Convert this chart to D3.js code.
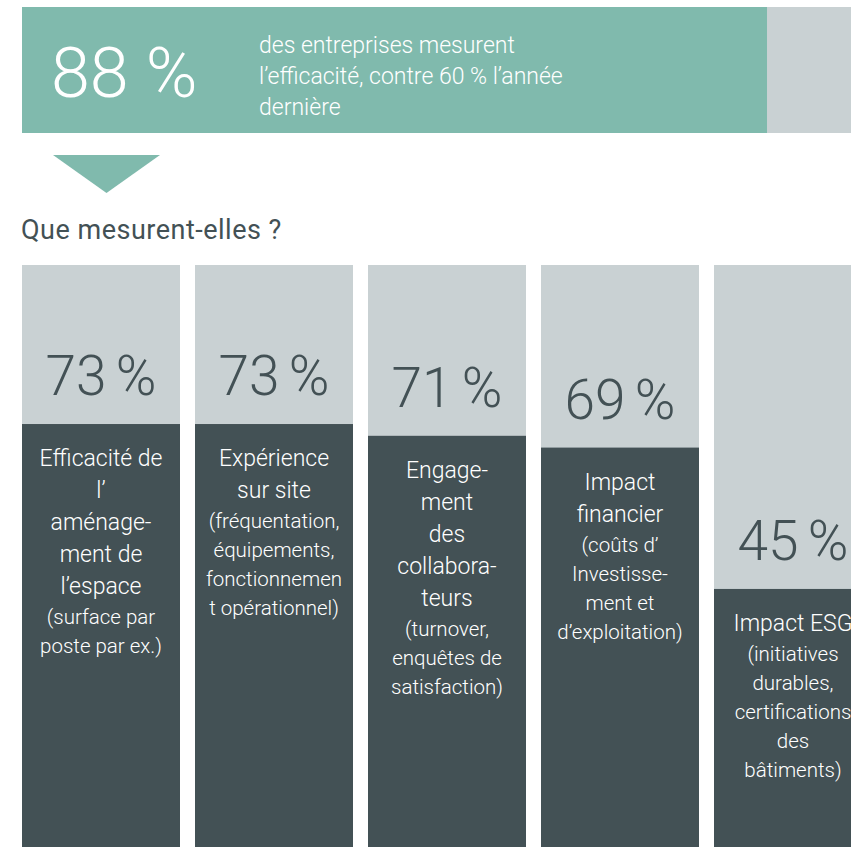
<!DOCTYPE html>
<html lang="fr">
<head>
<meta charset="utf-8">
<script src="https://cdn.jsdelivr.net/npm/d3@7"></script>
<style>
  html, body { margin: 0; padding: 0; background: #ffffff; }
  svg { display: block; }
  text { font-family: Roboto, "Noto Sans", sans-serif; }
</style>
</head>
<body>
<svg id="chart" width="851" height="847"></svg>
<script>
// Headline figure
const headlineValue = 88;
const headlineLines = [
  "des entreprises mesurent",
  "l’efficacité, contre 60 % l’année",
  "dernière"
];
const subtitle = "Que mesurent-elles ?";

// What the companies measure
const categories = ["Efficacité", "Expérience", "Engagement", "Financier", "ESG"];
const values = [73, 73, 71, 69, 45];
const titleLines = [
  ["Efficacité de", "l’", "aménage-", "ment de", "l’espace"],
  ["Expérience", "sur site"],
  ["Engage-", "ment", "des", "collabora-", "teurs"],
  ["Impact", "financier"],
  ["Impact ESG"]
];
const noteLines = [
  ["(surface par", "poste par ex.)"],
  ["(fréquentation,", "équipements,", "fonctionnemen", "t opérationnel)"],
  ["(turnover,", "enquêtes de", "satisfaction)"],
  ["(coûts d’", "Investisse-", "ment et", "d’exploitation)"],
  ["(initiatives", "durables,", "certifications", "des", "bâtiments)"]
];

const TEAL = "#80baad";
const GREY = "#c9d1d3";
const DARK = "#435155";

const svg = d3.select("#chart");

// ---- Headline bar ----
const xTop = d3.scaleLinear().domain([0, 100]).range([22, 868.6]);
const topY = 7, topH = 126;

svg.append("rect")
  .attr("x", xTop(0)).attr("y", topY)
  .attr("width", xTop(100) - xTop(0)).attr("height", topH)
  .attr("fill", GREY);
svg.append("rect")
  .attr("x", xTop(0)).attr("y", topY)
  .attr("width", xTop(headlineValue) - xTop(0)).attr("height", topH)
  .attr("fill", TEAL);

svg.append("text")
  .attr("x", 51).attr("y", 97)
  .attr("fill", "#ffffff")
  .attr("font-size", 70)
  .attr("font-weight", 300)
  .text(`${headlineValue} %`);

svg.append("g")
  .selectAll("text")
  .data(headlineLines)
  .join("text")
  .attr("x", 259)
  .attr("y", (d, i) => 53 + i * 31)
  .attr("fill", "#ffffff")
  .attr("font-size", 23)
  .attr("font-weight", 300)
  .text(d => d);

// Pointer triangle
svg.append("path")
  .attr("d", d3.line()([[53, 155], [160, 155], [106.5, 193]]) + "Z")
  .attr("fill", TEAL);

svg.append("text")
  .attr("x", 21).attr("y", 239)
  .attr("fill", DARK)
  .attr("font-size", 27)
  .attr("letter-spacing", 0.5)
  .attr("font-weight", 400)
  .text(subtitle);

// ---- Columns ----
const x = d3.scaleBand()
  .domain(categories)
  .range([22, 872])
  .paddingInner(15 / 173)
  .paddingOuter(0);
const y = d3.scaleLinear().domain([0, 100]).range([854, 265]);

const cols = svg.append("g")
  .selectAll("g")
  .data(categories.map((c, i) => ({ c, v: values[i], t: titleLines[i], n: noteLines[i] })))
  .join("g");

cols.append("rect")
  .attr("x", d => x(d.c)).attr("y", y(100))
  .attr("width", x.bandwidth()).attr("height", y(0) - y(100))
  .attr("fill", GREY);

cols.append("rect")
  .attr("x", d => x(d.c)).attr("y", d => y(d.v))
  .attr("width", x.bandwidth()).attr("height", d => y(0) - y(d.v))
  .attr("fill", DARK);

cols.append("text")
  .attr("x", d => x(d.c) + x.bandwidth() / 2)
  .attr("y", d => y(d.v) - 29)
  .attr("text-anchor", "middle")
  .attr("fill", DARK)
  .attr("font-size", 55)
  .attr("word-spacing", -4)
  .attr("font-weight", 300)
  .text(d => `${d.v} %`);

cols.each(function (d) {
  const g = d3.select(this);
  const cx = x(d.c) + x.bandwidth() / 2;
  const base = y(d.v) + 42;
  d.t.forEach((line, i) => {
    g.append("text")
      .attr("x", cx).attr("y", base + i * 32)
      .attr("text-anchor", "middle")
      .attr("fill", "#ffffff")
      .attr("font-size", 23)
      .attr("font-weight", 300)
      .text(line);
  });
  const nBase = base + (d.t.length - 1) * 32 + 30;
  d.n.forEach((line, i) => {
    g.append("text")
      .attr("x", cx).attr("y", nBase + i * 29)
      .attr("text-anchor", "middle")
      .attr("fill", "#ffffff")
      .attr("font-size", 20.5)
      .attr("font-weight", 300)
      .text(line);
  });
});
</script>
</body>
</html>
